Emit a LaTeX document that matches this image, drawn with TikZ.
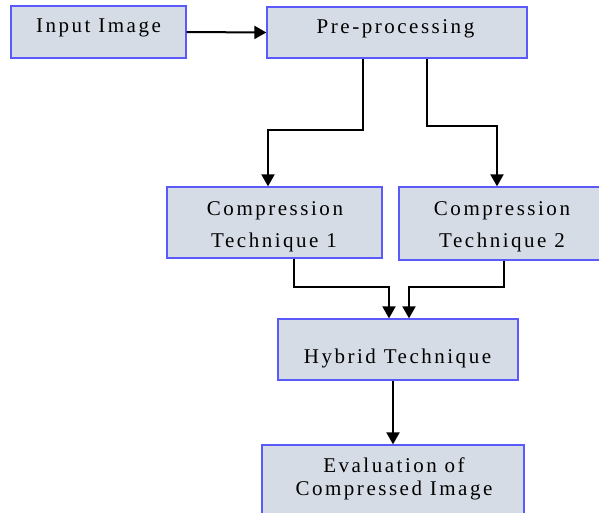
\documentclass[tikz,border=0pt]{standalone}
\usepackage{fontspec}
\setmainfont[LetterSpace=12]{Liberation Serif}
\usetikzlibrary{arrows.meta}
\definecolor{boxfill}{RGB}{214,220,229}
\definecolor{boxline}{RGB}{90,90,250}
\tikzset{
  box/.style={draw=boxline, fill=boxfill, line width=1.3pt, inner sep=0pt},
  txt/.style={font=\fontsize{21}{24}\selectfont, anchor=base, inner sep=0pt},
  arr/.style={line width=2pt, -{Triangle[length=12pt,width=13pt]}},
}
\begin{document}
\begin{tikzpicture}[x=1pt,y=-1pt]
\useasboundingbox (0,0) rectangle (599,512);
\clip (0,0) rectangle (599,512);
% boxes
\node[box, minimum width=175pt, minimum height=52pt] (inp) at (98.5,32) {};
\node[box, minimum width=260pt, minimum height=51pt] (pre) at (397,32.5) {};
\node[box, minimum width=215pt, minimum height=71pt] (c1) at (274.5,222.5) {};
\node[box, minimum width=210pt, minimum height=73pt] (c2) at (504,223.5) {};
\node[box, minimum width=240pt, minimum height=61pt] (hyb) at (398,349.5) {};
\node[box, minimum width=262pt, minimum height=95pt] (ev) at (393,492.5) {};
% texts
\node[txt] (tinp) at (98.5,32) {Input Image};
\node[txt] (tpre) at (395.5,33) {Pre-processing};
\node[txt] (tc1a) at (275,215) {Compression};
\node[txt] (tc1b) at (274,247) {Technique 1};
\node[txt] (tc2a) at (502,215) {Compression};
\node[txt] (tc2b) at (502,247) {Technique 2};
\node[txt] (thyb) at (397.5,363) {Hybrid Technique};
\node[txt] (teva) at (394,472) {Evaluation of};
\node[txt] (tevb) at (394,495) {Compressed Image};
% coordinates
\coordinate (a1) at (363,0);
\coordinate (a2) at (427,0);
\coordinate (b1) at (268,0);
\coordinate (b2) at (497,0);
\coordinate (d1) at (294,0);
\coordinate (d2) at (504,0);
\coordinate (e1) at (389,0);
\coordinate (e2) at (409,0);
\coordinate (f) at (393,0);
\coordinate (ya) at (0,130);
\coordinate (yb) at (0,126);
\coordinate (yc) at (0,287);
% connectors
\draw[arr] (inp.east) -- (pre.west);
\draw[arr] (pre.south -| a1) -- (a1 |- ya) -- (b1 |- ya) -- (c1.north -| b1);
\draw[arr] (pre.south -| a2) -- (a2 |- yb) -- (b2 |- yb) -- (c2.north -| b2);
\draw[arr] (c1.south -| d1) -- (d1 |- yc) -- (e1 |- yc) -- (hyb.north -| e1);
\draw[arr] (c2.south -| d2) -- (d2 |- yc) -- (e2 |- yc) -- (hyb.north -| e2);
\draw[arr] (hyb.south -| f) -- (ev.north -| f);
\end{tikzpicture}
\end{document}
